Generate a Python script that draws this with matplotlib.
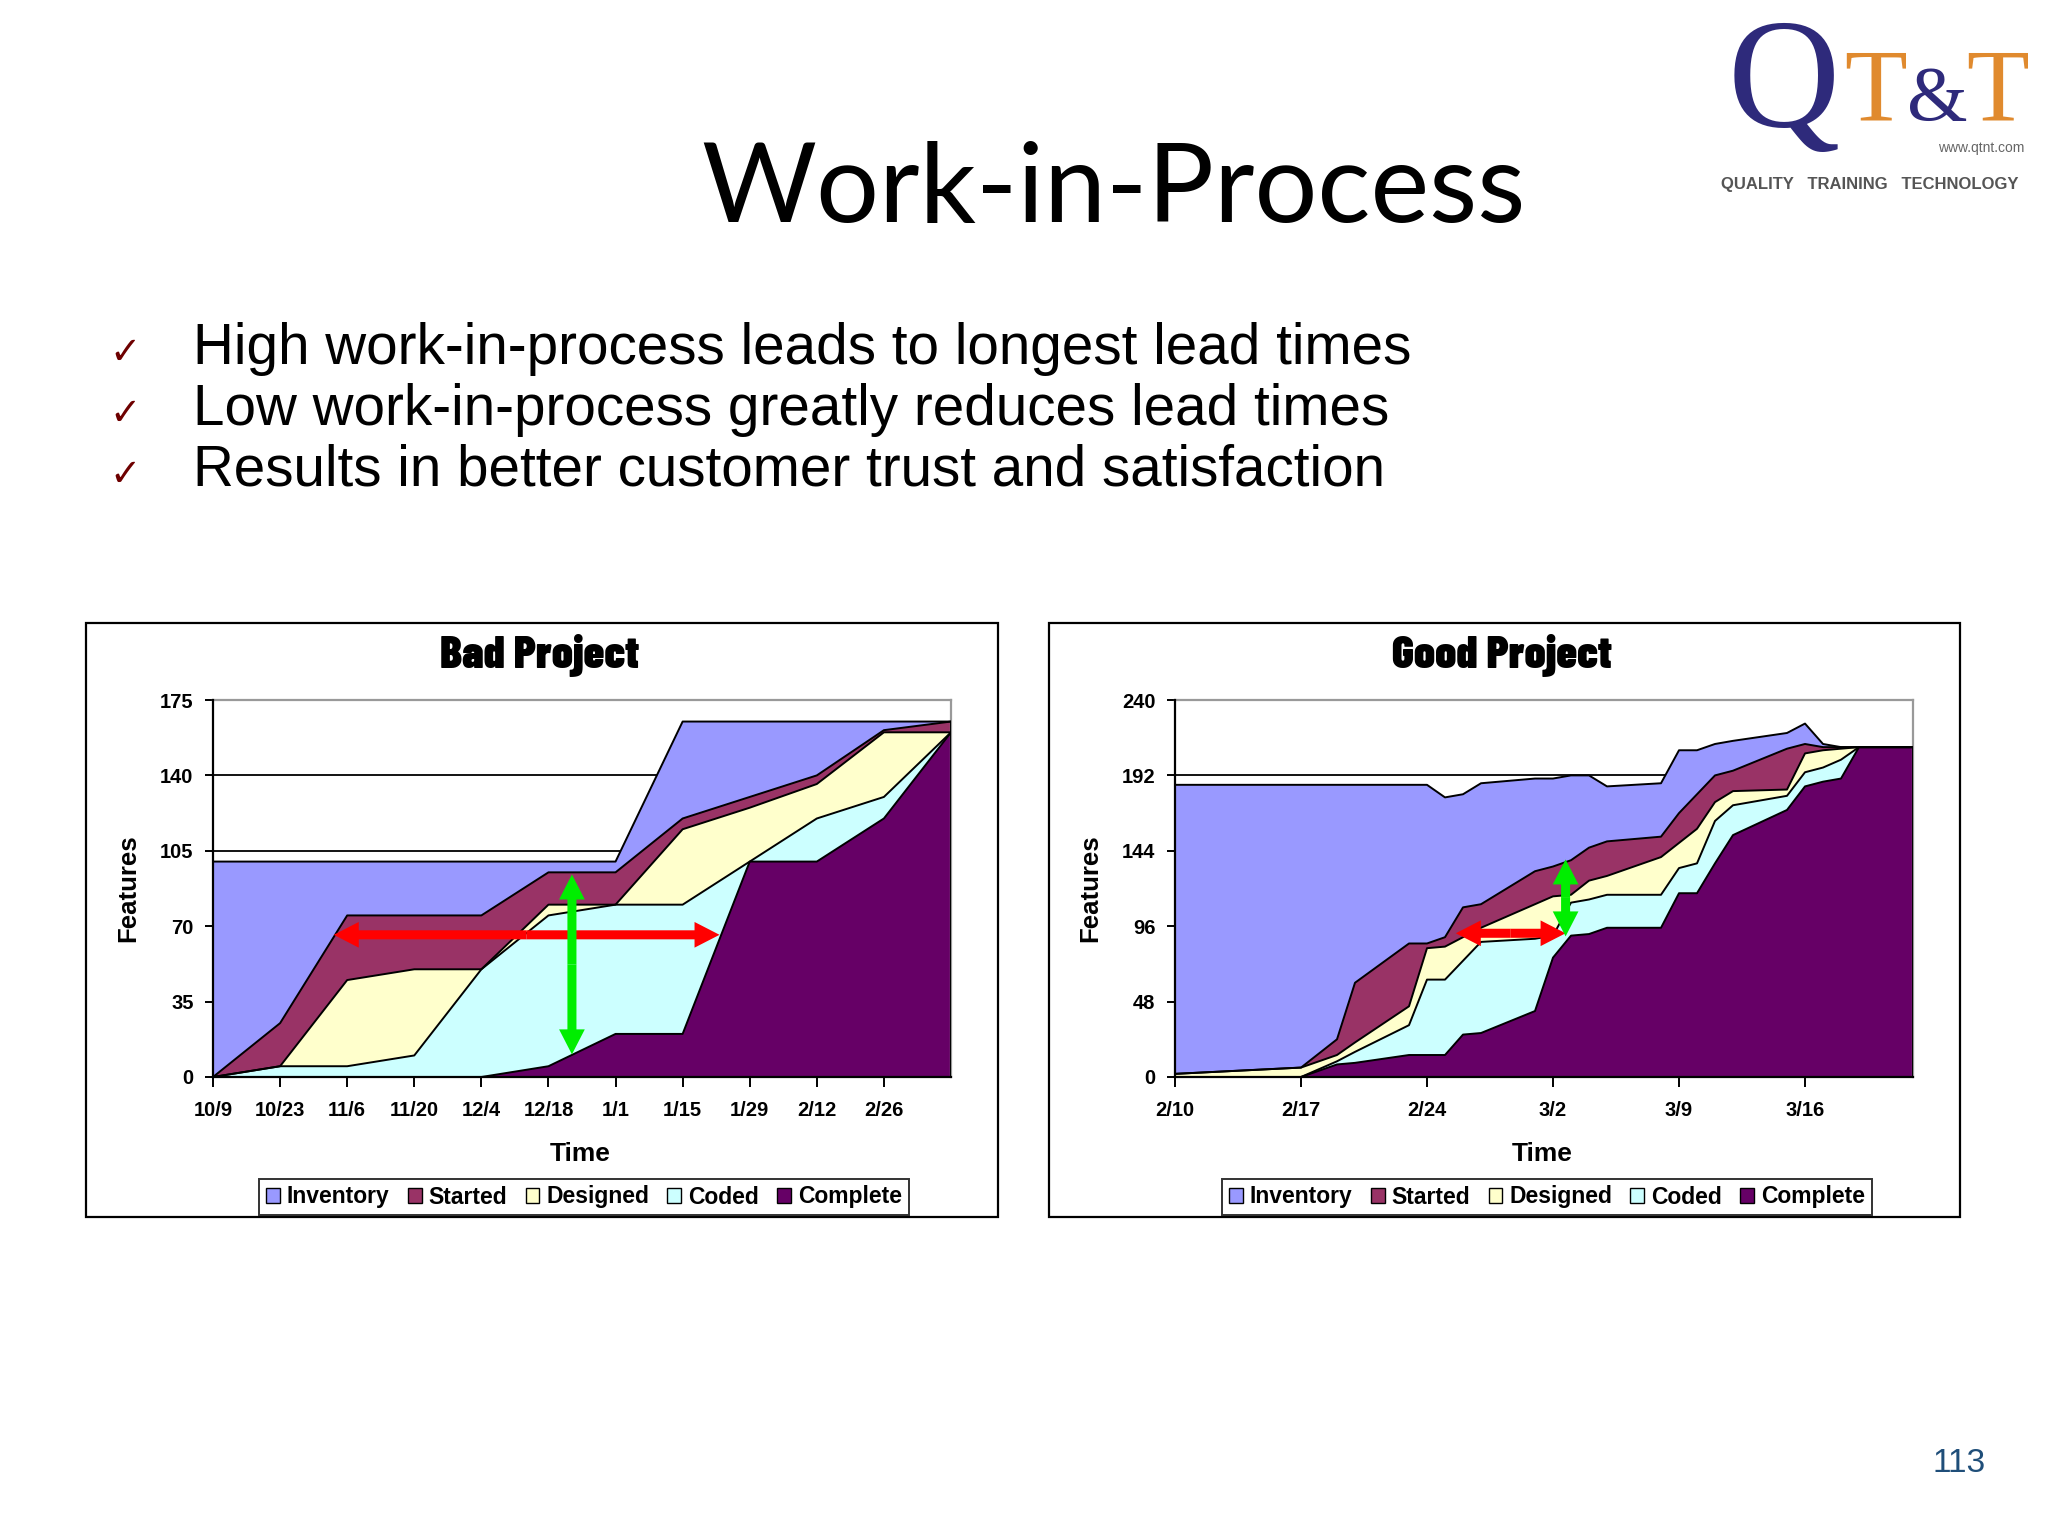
import matplotlib
matplotlib.use("Agg")
import matplotlib.pyplot as plt
from matplotlib.patches import Rectangle, FancyArrowPatch, ArrowStyle
import numpy as np

plt.rcParams['font.family'] = ['Liberation Sans', 'DejaVu Sans']

# --- data ---
series = ["Inventory", "Started", "Designed", "Coded", "Complete"]
colors = ["#9999FF", "#993366", "#FFFFCC", "#CCFFFF", "#660066"]

# Bad project: two-week steps, 10/9 .. 3/11
bad_labels = ["10/9", "10/23", "11/6", "11/20", "12/4", "12/18", "1/1",
              "1/15", "1/29", "2/12", "2/26"]
bad_inventory = [100, 75, 25, 25, 25, 5, 5, 45, 35, 25, 4, 0]
bad_started = [0, 20, 30, 25, 25, 15, 15, 5, 5, 4, 1, 5]
bad_designed = [0, 0, 40, 40, 0, 5, 0, 35, 25, 16, 30, 0]
bad_coded = [0, 5, 5, 10, 50, 70, 60, 60, 0, 20, 10, 0]
bad_complete = [0, 0, 0, 0, 0, 5, 20, 20, 100, 100, 120, 160]

# Good project: days after 2/10
good_days = [0, 7, 9, 10, 13, 14, 15, 16, 17, 20, 21, 22, 23, 24, 27, 28,
             29, 30, 31, 34, 35, 36, 37, 38, 41]
good_inventory = [184, 180, 162, 126, 101, 101, 89, 72, 77, 59, 56, 54, 46,
                  35, 34, 40, 28, 20, 19, 10, 13, 2, 0, 0, 0]
good_started = [0, 0, 10, 38, 40, 3, 6, 19, 15, 21, 19, 22, 21, 22, 13, 19,
                22, 17, 13, 26, 6, 2, 1, 0, 0]
good_designed = [2, 6, 4, 6, 12, 20, 21, 15, 9, 22, 25, 5, 12, 12, 24, 16,
                 22, 12, 9, 4, 12, 11, 7, 0, 0]
good_coded = [0, 0, 2, 7, 19, 48, 48, 47, 58, 46, 14, 21, 22, 21, 21, 16,
              19, 27, 19, 9, 9, 9, 12, 0, 0]
good_complete = [0, 0, 8, 9, 14, 14, 14, 27, 28, 42, 76, 90, 91, 95, 95, 117,
                 117, 136, 154, 170, 185, 188, 190, 210, 210]
good_ticks = [0, 7, 14, 21, 28, 35]
good_labels = ["2/10", "2/17", "2/24", "3/2", "3/9", "3/16"]

W, H = 2048, 1536
fig = plt.figure(figsize=(W / 100, H / 100), dpi=100)
fig.patch.set_facecolor("white")


def fx(x):
    return x / W


def fy(y):
    return 1 - y / H


def double_arrow(ax, p0, p1, color):
    mid = ((p0[0] + p1[0]) / 2, (p0[1] + p1[1]) / 2)
    style = ArrowStyle.Simple(head_length=1.8, head_width=1.85, tail_width=0.65)
    for end in (p0, p1):
        ax.add_patch(FancyArrowPatch(mid, end, arrowstyle=style, mutation_scale=10,
                                     color=color, lw=0, shrinkA=0, shrinkB=0,
                                     zorder=6, clip_on=False))


def draw_chart(rect, x, values, ymax, ystep, title, xticks, xlabels, xmax,
               red, green, legend_x):
    ax = fig.add_axes(rect)
    base = np.zeros(len(x))
    # stack from the bottom: Complete, Coded, Designed, Started, Inventory
    for i in range(len(series) - 1, -1, -1):
        top = base + np.array(values[i], dtype=float)
        ax.fill_between(x, base, top, facecolor=colors[i], edgecolor="none",
                        zorder=2, label=series[i])
        ax.plot(x, top, color="black", lw=1.4, zorder=3)
        base = top
    ax.plot([x[-1], x[-1]], [0, base[-1]], color="black", lw=1.4, zorder=3)

    ax.set_xlim(0, xmax)
    ax.set_ylim(0, ymax)
    ax.set_yticks(np.arange(0, ymax + 1, ystep))
    ax.set_xticks(xticks)
    ax.set_xticklabels(xlabels)
    for yv in np.arange(ystep, ymax, ystep):
        ax.axhline(yv, color="black", lw=1.3, zorder=1)
    for s in ("top", "right"):
        ax.spines[s].set_color("#999999")
        ax.spines[s].set_linewidth(1.6)
    for s in ("left", "bottom"):
        ax.spines[s].set_color("black")
        ax.spines[s].set_linewidth(1.6)
        ax.spines[s].set_zorder(4)
    ax.tick_params(axis="y", direction="out", length=6, width=1.4, pad=8)
    ax.tick_params(axis="x", direction="out", length=7, width=1.4, pad=10)
    for lab in ax.get_xticklabels() + ax.get_yticklabels():
        lab.set_fontweight("bold")
        lab.set_fontsize(14.5)

    ax.text(0.443, 1.117, title, transform=ax.transAxes, ha="center", va="center",
            fontsize=33, fontweight="black",
            family=["Barlow Condensed", "DejaVu Sans"])
    ax.text(-0.115, 0.5, "Features", transform=ax.transAxes, rotation=90,
            ha="center", va="center", fontsize=18.5, fontweight="bold")
    ax.text(0.498, -0.204, "Time", transform=ax.transAxes, ha="center",
            va="center", fontsize=19, fontweight="bold")

    double_arrow(ax, red[0], red[1], "#FF0000")
    double_arrow(ax, green[0], green[1], "#00EE00")

    handles, labels = ax.get_legend_handles_labels()
    order = [labels.index(n) for n in series]
    leg = fig.legend([handles[k] for k in order], [labels[k] for k in order],
                     loc="center", bbox_to_anchor=(legend_x, fy(1197)), ncol=5,
                     frameon=True, fancybox=False, edgecolor="black",
                     handlelength=0.6, handleheight=0.6, handletextpad=0.3,
                     columnspacing=0.8, borderpad=0.3,
                     prop={"weight": "bold", "size": 16.5})
    leg.get_frame().set_linewidth(1.4)
    for hnd in leg.legend_handles:
        hnd.set_edgecolor("black")
        hnd.set_linewidth(1.0)
    return ax


# panel frames
for x0, x1 in ((86, 998), (1049, 1960)):
    fig.patches.append(Rectangle((fx(x0), fy(1217)), fx(x1) - fx(x0), fy(623) - fy(1217),
                                 transform=fig.transFigure, facecolor="white",
                                 edgecolor="black", lw=1.6, zorder=-1))

bad_values = [bad_inventory, bad_started, bad_designed, bad_coded, bad_complete]
good_values = [good_inventory, good_started, good_designed, good_coded, good_complete]

draw_chart([fx(213), fy(1077), fx(951) - fx(213), fy(700) - fy(1077)],
           np.arange(len(bad_complete)), bad_values, 175, 35, "Bad Project",
           np.arange(len(bad_labels)), bad_labels, len(bad_complete) - 1,
           ((1.8, 66), (7.55, 66)), ((5.35, 10.5), (5.35, 94)), fx(584))

draw_chart([fx(1175), fy(1077), fx(1913) - fx(1175), fy(700) - fy(1077)],
           np.array(good_days), good_values, 240, 48, "Good Project",
           good_ticks, good_labels, good_days[-1],
           ((15.6, 91.5), (21.7, 91.5)), ((21.7, 89.5), (21.7, 138.5)), fx(1547))

# slide text
fig.text(fx(1113), fy(222), "Work-in-Process", ha="center", va="baseline",
         fontsize=80, family=["Lato", "DejaVu Sans"])

bullets = ["High work-in-process leads to longest lead times",
           "Low work-in-process greatly reduces lead times",
           "Results in better customer trust and satisfaction"]
for k, line in enumerate(bullets):
    yb = 364 + k * 61
    fig.text(fx(125), fy(yb), "\u2713", ha="center", va="baseline", fontsize=27,
             color="#6E0000", family=["DejaVu Sans"])
    fig.text(fx(193), fy(yb), line, ha="left", va="baseline", fontsize=40.8)

fig.text(fx(1959), fy(1463), "113", ha="center", va="center", fontsize=24,
         color="#1F4E79")

# logo
fig.text(fx(1784), fy(126), "Q", ha="center", va="baseline", fontsize=112,
         color="#2E2A7B", family=["Liberation Serif"])
fig.text(fx(1876), fy(120), "T", ha="center", va="baseline", fontsize=74,
         color="#E08A2E", family=["Liberation Serif"])
fig.text(fx(1937), fy(120), "&", ha="center", va="baseline", fontsize=56,
         color="#2E2A7B", family=["Liberation Serif"])
fig.text(fx(1998), fy(120), "T", ha="center", va="baseline", fontsize=74,
         color="#E08A2E", family=["Liberation Serif"])
fig.text(fx(2024), fy(152), "www.qtnt.com", ha="right", va="baseline", fontsize=10,
         color="#666666")
fig.text(fx(1870), fy(189), "QUALITY   TRAINING   TECHNOLOGY", ha="center",
         va="baseline", fontsize=12, fontweight="bold", color="#555555")

fig.savefig("out.png", dpi=100)
